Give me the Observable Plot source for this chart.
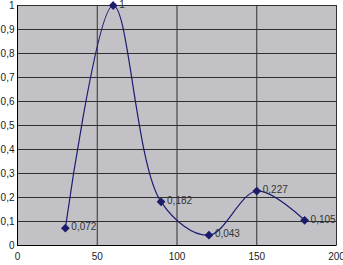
<!DOCTYPE html>
<html><head><meta charset="utf-8">
<script src="https://cdn.jsdelivr.net/npm/d3@7"></script>
<script src="https://cdn.jsdelivr.net/npm/@observablehq/plot@0.6"></script>
<style>body{margin:0;background:#fff;} svg{display:block;}</style>
</head><body><div id="chart"></div>
<script>
const xValues = [30, 60, 90, 120, 150, 180];
const yValues = [0.072, 1, 0.182, 0.043, 0.227, 0.105];
const pointLabels = ["0,072", "1", "0,182", "0,043", "0,227", "0,105"];
const xTicks = [0, 50, 100, 150, 200];
const yTicks = [0, 0.1, 0.2, 0.3, 0.4, 0.5, 0.6, 0.7, 0.8, 0.9, 1];

const data = xValues.map((x, i) => ({x, y: yValues[i], label: pointLabels[i]}));
const fmt = d => String(Math.round(d * 10) / 10).replace(".", ",");

const chart = Plot.plot({
  width: 343, height: 265,
  marginLeft: 17, marginRight: 7, marginTop: 5, marginBottom: 20,
  style: {fontFamily: "Liberation Sans, Arial, sans-serif", fontSize: "10px", color: "#222", background: "#fff"},
  x: {domain: [0, 200], ticks: xTicks, tickSize: 0, tickPadding: 7, label: null},
  y: {domain: [0, 1], ticks: yTicks, tickSize: 0, tickPadding: 3, tickFormat: fmt, label: null},
  marks: [
    Plot.frame({fill: "#c2c2c6", stroke: "#707070"}),
    Plot.gridX(xTicks, {stroke: "#303030", strokeOpacity: 1}),
    Plot.gridY(yTicks, {stroke: "#303030", strokeOpacity: 1}),
    Plot.ruleX([0], {stroke: "#000"}),
    Plot.ruleY([0], {stroke: "#000"}),
    Plot.line(data, {x: "x", y: "y", curve: "catmull-rom", stroke: "#1c1c72", strokeWidth: 1.2}),
    Plot.dot(data, {x: "x", y: "y", symbol: "diamond2", r: 3, fill: "#1c1c6a", stroke: "#1c1c6a"}),
    Plot.text(data, {x: "x", y: "y", text: "label", textAnchor: "start", dx: 6, dy: -1, fill: "#333", fontSize: 10})
  ]
});
document.getElementById("chart").appendChild(chart);
</script>
</body></html>
